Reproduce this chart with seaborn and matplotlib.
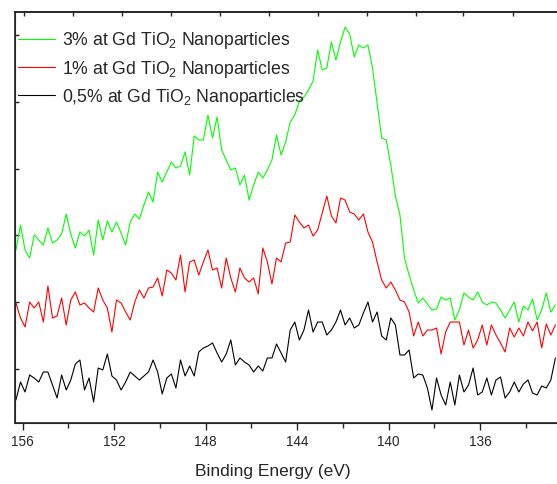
import numpy as np
import pandas as pd
import matplotlib
matplotlib.use('Agg')
import matplotlib.pyplot as plt
import seaborn as sns

sns.set_style('ticks')
plt.rcParams['font.family'] = ['Liberation Sans', 'DejaVu Sans']
plt.rcParams['mathtext.default'] = 'regular'

# binding energy axis (eV), 0.2 eV steps from 156.3 down to 132.7
energy = np.round(np.arange(156.3, 132.6, -0.2), 2)

# intensities (arb. units)
gd_3 = [173, 198, 173, 165, 188, 183, 178, 195, 180, 183, 189, 209, 189, 175, 191, 187, 193, 168, 203, 183,
        202, 191, 201, 190, 178, 201, 209, 204, 218, 231, 221, 251, 241, 251, 261, 255, 257, 271, 248, 287,
        283, 283, 308, 285, 306, 273, 263, 253, 255, 238, 248, 223, 238, 251, 245, 253, 263, 288, 268, 281,
        301, 308, 322, 326, 333, 342, 373, 353, 355, 381, 363, 381, 396, 389, 366, 378, 375, 378, 355, 320,
        285, 283, 258, 227, 208, 165, 148, 133, 120, 125, 119, 113, 114, 126, 123, 125, 103, 113, 130, 126,
        123, 131, 121, 118, 121, 120, 113, 105, 113, 121, 101, 117, 113, 124, 103, 113, 130, 111, 118]

gd_1 = [120, 105, 96, 121, 115, 121, 101, 137, 105, 107, 125, 98, 123, 131, 118, 120, 115, 111, 135, 123,
        115, 91, 123, 120, 111, 103, 121, 133, 125, 135, 136, 145, 127, 153, 150, 143, 168, 131, 161, 163,
        148, 161, 173, 153, 155, 135, 165, 145, 131, 155, 145, 141, 145, 129, 175, 161, 139, 165, 161, 180,
        181, 208, 201, 195, 198, 187, 193, 210, 227, 207, 200, 225, 223, 211, 209, 203, 209, 191, 181, 161,
        143, 135, 141, 133, 123, 121, 111, 87, 101, 87, 93, 93, 95, 69, 91, 101, 101, 101, 78, 93,
        75, 83, 98, 78, 98, 88, 80, 71, 95, 86, 95, 87, 101, 92, 101, 75, 99, 88, 98]

gd_05 = [23, 41, 31, 48, 45, 41, 51, 51, 38, 25, 48, 33, 43, 59, 63, 33, 45, 21, 55, 53,
         69, 47, 43, 33, 41, 51, 47, 43, 47, 51, 63, 51, 29, 45, 49, 35, 63, 47, 57, 47,
         71, 75, 77, 80, 70, 61, 69, 83, 58, 65, 61, 58, 51, 57, 52, 65, 65, 79, 70, 61,
         93, 101, 83, 93, 113, 91, 101, 101, 88, 93, 101, 113, 98, 105, 95, 98, 110, 121, 101, 111,
         87, 83, 105, 98, 68, 68, 73, 45, 49, 48, 35, 13, 45, 28, 18, 41, 18, 48, 31, 38,
         55, 28, 31, 45, 28, 43, 46, 25, 31, 41, 31, 39, 43, 30, 28, 37, 35, 43, 65]

labels = ['3% at Gd TiO$_2$ Nanoparticles',
          '1% at Gd TiO$_2$ Nanoparticles',
          '0,5% at Gd TiO$_2$ Nanoparticles']
colors = ['#00ff00', '#ff0000', '#000000']

df = pd.concat([
    pd.DataFrame({'energy': energy, 'intensity': vals, 'sample': lab})
    for vals, lab in zip([gd_3, gd_1, gd_05], labels)
], ignore_index=True)

fig = plt.figure(figsize=(5.57, 4.84), dpi=100)
ax = fig.add_axes([15 / 557, 61 / 484, 542 / 557, 411 / 484])

sns.lineplot(data=df, x='energy', y='intensity', hue='sample', hue_order=labels,
             palette=colors, estimator=None, sort=False, lw=0.8, ax=ax)

ax.set_xlim(156.34, 132.63)
ax.set_ylim(0, 411)

ax.set_xticks([156, 152, 148, 144, 140, 136])
ax.set_xticks([154, 150, 146, 142, 138, 134], minor=True)
ax.set_yticks([54, 121, 188, 254, 321, 388])
ax.tick_params(axis='x', which='major', direction='out', length=5, width=1, labelsize=9.8, pad=4)
ax.tick_params(axis='x', which='minor', direction='out', length=3.5, width=1)
ax.tick_params(axis='y', direction='in', length=3, width=1, labelleft=False)
for side in ['left', 'bottom', 'top']:
    ax.spines[side].set_linewidth(1.2)
ax.spines['right'].set_visible(False)

# top axis ticks (inward, unlabeled)
top = ax.twiny()
top.set_xlim(ax.get_xlim())
top.set_xticks([155.94, 153.8, 151.66, 149.52, 147.37, 145.23, 143.09, 140.95, 138.8, 136.75, 134.56])
top.tick_params(axis='x', direction='in', length=3, width=1, labeltop=False)
top.spines['right'].set_visible(False)
top.spines['top'].set_linewidth(1.2)

ax.set_ylabel('')
ax.set_xlabel('Binding Energy (eV)', fontsize=12.5)
ax.xaxis.set_label_coords(0.476, -0.10)

handles, texts = ax.get_legend_handles_labels()
ax.legend(handles, texts, loc='upper left', bbox_to_anchor=(0.0055, 0.955),
          frameon=False, fontsize=12.7, handlelength=2.1, handletextpad=0.4,
          labelspacing=0.4, borderpad=0, borderaxespad=0)

fig.savefig('out.png', dpi=100)
